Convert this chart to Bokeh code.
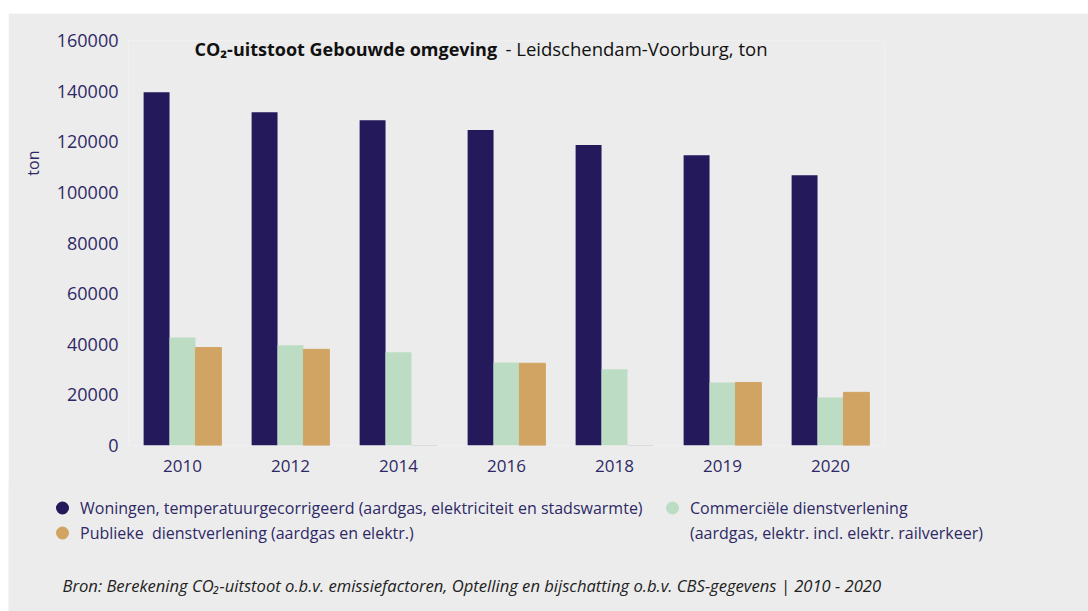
from bokeh.plotting import figure
from bokeh.models import (FactorRange, Range1d, ColumnDataSource, FixedTicker,
                          NumeralTickFormatter, Legend, LegendItem, Label, Title)
from bokeh.transform import dodge
from bokeh.embed import file_html
from bokeh.resources import INLINE

# ---- data ----
years = ["2010", "2012", "2014", "2016", "2018", "2019", "2020"]
woningen = [139600, 131700, 128500, 124600, 118700, 114700, 106800]
commercieel = [42700, 39600, 36800, 32800, 30100, 24900, 19000]
publiek = [38700, 38000, 0, 32500, 0, 24900, 21000]
y_ticks = [0, 20000, 40000, 60000, 80000, 100000, 120000, 140000, 160000]

label_woningen = "Woningen, temperatuurgecorrigeerd (aardgas, elektriciteit en stadswarmte)"
label_commercieel = "Commerciële dienstverlening"
label_commercieel_2 = "(aardgas, elektr. incl. elektr. railverkeer)"
label_publiek = "Publieke  dienstverlening (aardgas en elektr.)"
title_bold = "CO₂-uitstoot Gebouwde omgeving"
title_rest = "- Leidschendam-Voorburg, ton"
y_label = "ton"
source_note = "Bron: Berekening CO₂-uitstoot o.b.v. emissiefactoren, Optelling en bijschatting o.b.v. CBS-gegevens | 2010 - 2020"

# ---- style ----
NAVY = "#23195b"
GREEN = "#bcdcc4"
TAN = "#d2a463"
BG = "#ececec"
TXT = "#2e2966"
FONT = "Open Sans"

src = ColumnDataSource(dict(
    year=years, woningen=woningen, commercieel=commercieel, publiek=publiek,
    publiek_line=["#d4d4d4" if v == 0 else TAN for v in publiek],
))

# ---- main chart ----
p = figure(width=1080, height=470,
           x_range=FactorRange(*years, range_padding=0),
           y_range=Range1d(0, 160000),
           output_backend="svg", toolbar_location=None,
           min_border_left=120, min_border_right=204,
           min_border_top=27, min_border_bottom=38,
           background_fill_color=BG, border_fill_color=BG,
           outline_line_color=None, margin=(13, 0, 0, 8))

w = 0.24
p.vbar(x=dodge("year", -w, range=p.x_range), top="woningen", width=w, source=src,
       fill_color=NAVY, line_color=None)
p.vbar(x=dodge("year", 0, range=p.x_range), top="commercieel", width=w, source=src,
       fill_color=GREEN, line_color=None)
p.vbar(x=dodge("year", w, range=p.x_range), top="publiek", width=w, source=src,
       fill_color=TAN, line_color="publiek_line", line_width=1)

p.xgrid.visible = False
p.ygrid.visible = False

for ax in (p.xaxis[0], p.yaxis[0]):
    ax.axis_line_color = None
    ax.major_tick_line_color = None
    ax.minor_tick_line_color = None
    ax.major_tick_out = 0
    ax.major_tick_in = 0
    ax.major_label_text_color = TXT
    ax.major_label_text_font = FONT

p.xaxis[0].major_label_text_font_size = "17px"
p.yaxis[0].major_label_text_font_size = "18px"
p.yaxis[0].ticker = FixedTicker(ticks=y_ticks)
p.yaxis[0].formatter = NumeralTickFormatter(format="0")
p.yaxis[0].major_label_standoff = 10
p.xaxis[0].major_label_standoff = 14

ylab = Title(text=y_label, align="right", offset=110,
             text_font=FONT, text_font_style="normal", text_font_size="16px",
             text_color=TXT, standoff=20)
p.add_layout(ylab, "left")

p.add_layout(Label(x=66, y=397, x_units="screen", y_units="screen", text=title_bold,
                   text_font=FONT, text_font_style="bold", text_font_size="18px",
                   text_color="#111111", text_baseline="middle"))
p.add_layout(Label(x=377, y=397, x_units="screen", y_units="screen", text=title_rest,
                   text_font=FONT, text_font_size="18.5px",
                   text_color="#111111", text_baseline="middle"))

# ---- legend + source strip ----
q = figure(width=1080, height=129,
           x_range=Range1d(0, 1080), y_range=Range1d(0, 129),
           output_backend="svg", toolbar_location=None,
           x_axis_location=None, y_axis_location=None,
           min_border=0, min_border_left=0, min_border_right=0,
           min_border_top=0, min_border_bottom=0,
           background_fill_color=BG, border_fill_color=BG,
           outline_line_color=None, margin=(-1, 0, 0, 8))
q.xgrid.visible = False
q.ygrid.visible = False

# legend swatches (their points fall far outside this strip's ranges)
r1 = q.scatter(x="woningen", y="woningen", source=src, marker="circle",
               fill_color=NAVY, line_color=NAVY, line_width=3)
r2 = q.scatter(x="woningen", y="woningen", source=src, marker="circle",
               fill_color=TAN, line_color=TAN, line_width=3)
r3 = q.scatter(x="woningen", y="woningen", source=src, marker="circle",
               fill_color=GREEN, line_color=GREEN, line_width=3)
r4 = q.scatter(x="woningen", y="woningen", source=src, marker="circle",
               fill_alpha=0, line_alpha=0)

legend = Legend(items=[
    LegendItem(label=label_woningen, renderers=[r1]),
    LegendItem(label=label_publiek, renderers=[r2]),
    LegendItem(label=label_commercieel, renderers=[r3]),
    LegendItem(label=label_commercieel_2, renderers=[r4]),
], location=(38, 66), orientation="vertical", nrows=2,
    glyph_width=32, glyph_height=25, label_height=20, label_width=576,
    label_standoff=2, spacing=0, padding=0, margin=0,
    background_fill_alpha=0, border_line_color=None,
    label_text_font=FONT, label_text_font_size="16px", label_text_color=TXT)
q.add_layout(legend, "center")

q.add_layout(Label(x=54, y=26, x_units="screen", y_units="screen", text=source_note,
                   text_font=FONT, text_font_style="italic", text_font_size="16.6px",
                   text_color="#222222", text_baseline="middle"))

open("out.html", "w").write(file_html([p, q], INLINE))
